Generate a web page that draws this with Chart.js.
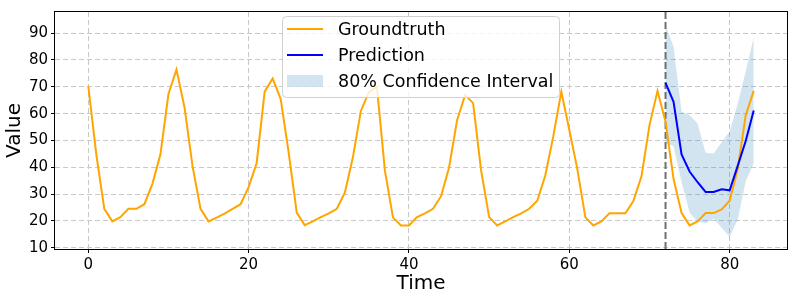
<!DOCTYPE html>
<html>
<head>
<meta charset="utf-8">
<script src="https://cdn.jsdelivr.net/npm/chart.js@4"></script>
<style>
  body { margin: 0; background: #fff; }
  #chart { display: block; }
</style>
</head>
<body>
<canvas id="chart" width="793" height="299"></canvas>
<script>
//Dados
const timeAll = [...Array(84).keys()];
const groundtruth = [70.3, 44.8, 24.5, 19.8, 21.4, 24.5, 24.5, 26.2, 33.8, 44.8,
  67.3, 76.4, 62.4, 40.5, 24.5, 19.8, 21.2, 22.7, 24.5, 26.2,
  32.6, 41.5, 68.2, 73.1, 65.4, 45.4, 23.1, 18.4, 19.8, 21.4,
  22.8, 24.5, 30.5, 43.6, 61.0, 68.0, 70.0, 38.7, 21.3, 18.3,
  18.3, 21.4, 22.8, 24.5, 29.2, 39.9, 57.5, 67.0, 63.9, 38.7,
  21.4, 18.3, 19.8, 21.4, 22.8, 24.5, 27.5, 36.9, 51.5, 68.2,
  53.9, 39.3, 21.3, 18.3, 19.8, 22.8, 22.8, 22.8, 27.5, 36.6,
  55.7, 68.5, 57.0, 35.6, 22.9, 18.3, 19.8, 22.9, 22.9, 24.3,
  27.5, 39.3, 59.4, 68.5];
const timePred = [72, 73, 74, 75, 76, 77, 78, 79, 80, 81, 82, 83];
const prediction = [71.5, 64.4, 44.8, 38.4, 34.4, 30.8, 30.8, 31.8, 31.4, 40.5, 49.8, 61.2];
const ciUpper = [93.0, 84.9, 60.8, 59.4, 56.3, 45.4, 45.1, 49.3, 53.3, 63.6, 75.8, 88.4];
const ciLower = [49.0, 47.8, 34.4, 23.0, 19.8, 19.1, 20.8, 17.4, 14.0, 20.5, 34.8, 41.5];
const forecastStart = 72;
const xTicks = [0, 20, 40, 60, 80];
const yTicks = [10, 20, 30, 40, 50, 60, 70, 80, 90];

const FONT = 'DejaVu Sans';
const bandColor = 'rgba(31,119,180,0.2)';

function pares(xs, ys) {
  return xs.map((x, i) => ({ x: x, y: ys[i] }));
}

//Linha vertical tracejada no início da previsão
const linhaPrevisao = {
  id: 'linhaPrevisao',
  beforeDatasetsDraw(chart) {
    const ctx = chart.ctx;
    const area = chart.chartArea;
    const x = chart.scales.x.getPixelForValue(forecastStart);
    ctx.save();
    ctx.strokeStyle = '#707070';
    ctx.lineWidth = 2;
    ctx.setLineDash([7, 3]);
    ctx.beginPath();
    ctx.moveTo(x, area.top);
    ctx.lineTo(x, area.bottom);
    ctx.stroke();
    ctx.restore();
  }
};

//Moldura e legenda desenhadas por cima
const molduraLegenda = {
  id: 'molduraLegenda',
  afterDraw(chart) {
    const ctx = chart.ctx;
    const area = chart.chartArea;
    ctx.save();
    ctx.strokeStyle = '#000';
    ctx.lineWidth = 1;
    ctx.strokeRect(area.left - 0.5, area.top - 0.5, area.right - area.left + 1, area.bottom - area.top + 1);

    //legenda
    const lx = 282, ly = 16, lw = 277, lh = 81;
    ctx.beginPath();
    ctx.roundRect(lx + 0.5, ly + 0.5, lw, lh, 4);
    ctx.fillStyle = 'rgba(255,255,255,0.8)';
    ctx.fill();
    ctx.strokeStyle = '#d0d0d0';
    ctx.stroke();

    const itens = [
      { label: 'Groundtruth', tipo: 'linha', cor: '#ffa500' },
      { label: 'Prediction', tipo: 'linha', cor: '#0000ff' },
      { label: '80% Confidence Interval', tipo: 'area', cor: bandColor }
    ];
    ctx.font = '17.5px "' + FONT + '"';
    ctx.textBaseline = 'middle';
    itens.forEach((item, i) => {
      const y = 29 + i * 26;
      if (item.tipo == 'linha') {
        ctx.strokeStyle = item.cor;
        ctx.lineWidth = 2;
        ctx.beginPath();
        ctx.moveTo(287, y);
        ctx.lineTo(323, y);
        ctx.stroke();
      } else {
        ctx.fillStyle = item.cor;
        ctx.fillRect(287, y - 6, 36, 12);
      }
      ctx.fillStyle = '#000';
      ctx.fillText(item.label, 338, y + 1);
    });
    ctx.restore();
  }
};

const ctx = document.getElementById('chart');
const grafico = new Chart(ctx, {
  type: 'line',
  data: {
    datasets: [
      {
        label: 'Prediction',
        data: pares(timePred, prediction),
        borderColor: '#0000ff',
        borderWidth: 2,
        pointRadius: 0,
        fill: false
      },
      {
        label: 'Groundtruth',
        data: pares(timeAll, groundtruth),
        borderColor: '#ffa500',
        borderWidth: 2,
        pointRadius: 0,
        fill: false
      },
      {
        label: 'lower',
        data: pares(timePred, ciLower),
        borderWidth: 0,
        borderColor: 'rgba(0,0,0,0)',
        pointRadius: 0,
        fill: false
      },
      {
        label: '80% Confidence Interval',
        data: pares(timePred, ciUpper),
        borderWidth: 0,
        borderColor: 'rgba(0,0,0,0)',
        backgroundColor: bandColor,
        pointRadius: 0,
        fill: '-1'
      }
    ]
  },
  options: {
    responsive: false,
    animation: false,
    devicePixelRatio: 1,
    layout: { padding: { top: 6, right: 6, left: 0, bottom: 0 } },
    plugins: {
      legend: { display: false },
      tooltip: { enabled: false }
    },
    scales: {
      x: {
        type: 'linear',
        min: -4.15,
        max: 87.15,
        afterBuildTicks: (scale) => { scale.ticks = xTicks.map(v => ({ value: v })); },
        afterFit: (scale) => { scale.height = 50; },
        ticks: { color: '#000', font: { family: FONT, size: 15 }, padding: 3, maxRotation: 0 },
        grid: { color: '#c8c8c8', lineWidth: 1, tickColor: '#000', tickLength: 4, tickBorderDash: [] },
        border: { display: false, dash: [5, 3] },
        title: { display: true, text: 'Time', color: '#000', font: { family: FONT, size: 20 }, padding: 3 }
      },
      y: {
        min: 9.5,
        max: 97.9,
        afterBuildTicks: (scale) => { scale.ticks = yTicks.map(v => ({ value: v })); },
        afterFit: (scale) => { scale.width = 55; },
        ticks: { color: '#000', font: { family: FONT, size: 15 }, padding: 3 },
        grid: { color: '#c8c8c8', lineWidth: 1, tickColor: '#000', tickLength: 4, tickBorderDash: [] },
        border: { display: false, dash: [5, 3] },
        title: { display: true, text: 'Value', color: '#000', font: { family: FONT, size: 20 }, padding: 3 }
      }
    }
  },
  plugins: [linhaPrevisao, molduraLegenda]
});
</script>
</body>
</html>
